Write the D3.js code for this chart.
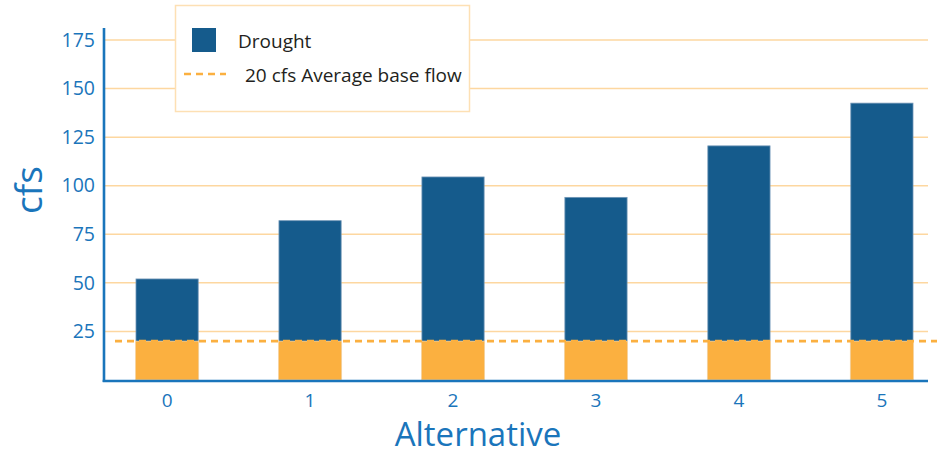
<!DOCTYPE html>
<html>
<head>
<meta charset="utf-8">
<script src="https://cdn.jsdelivr.net/npm/d3@7"></script>
<style>
  html, body { margin: 0; padding: 0; background: #fff; }
  svg { display: block; }
  text { font-family: "Open Sans", "Noto Sans", sans-serif; }
</style>
</head>
<body>
<svg id="chart" width="940" height="455"></svg>
<script>
// Flow per alternative under drought conditions (cfs)
const alternatives = ["0", "1", "2", "3", "4", "5"];
const droughtFlow = [52, 82, 104.5, 94, 120.5, 142.5];
// Average base flow (cfs), shown as the orange lower part and the dashed line
const baseFlow = [20, 20, 20, 20, 20, 20];
const averageBaseFlow = 20;
const yTicks = [25, 50, 75, 100, 125, 150, 175];

const legendItems = ["Drought", "20 cfs Average base flow"];

const C = {
  axis: "#1a75bb",
  drought: "#155b8c",
  droughtEdge: "#6f95b6",
  base: "#fbb040",
  baseEdge: "#fdd9a6",
  grid: "#fdd7a0",
  legendBorder: "#fde0b4",
  text: "#231f20"
};

const svg = d3.select("#chart");
const plotLeft = 104, plotRight = 928;

const y = d3.scaleLinear().domain([0, 175]).range([380, 40]);
const x = d3.scaleBand()
  .domain(alternatives)
  .range([136, 913])
  .paddingInner(0.565)
  .paddingOuter(0);

// Horizontal gridlines
svg.append("g")
  .selectAll("line")
  .data(yTicks)
  .join("line")
  .attr("x1", plotLeft)
  .attr("x2", plotRight)
  .attr("y1", d => y(d))
  .attr("y2", d => y(d))
  .attr("stroke", C.grid)
  .attr("stroke-width", 1.5);

// Drought bars (full height)
svg.append("g")
  .selectAll("rect")
  .data(alternatives)
  .join("rect")
  .attr("x", (d, i) => x(d))
  .attr("width", x.bandwidth())
  .attr("y", (d, i) => y(droughtFlow[i]))
  .attr("height", (d, i) => y(0) - y(droughtFlow[i]))
  .attr("fill", C.drought)
  .attr("stroke", C.droughtEdge)
  .attr("stroke-width", 0.8);

// Base flow portion
svg.append("g")
  .selectAll("rect")
  .data(alternatives)
  .join("rect")
  .attr("x", (d, i) => x(d) - 0.5)
  .attr("width", x.bandwidth() + 1)
  .attr("y", (d, i) => y(baseFlow[i]))
  .attr("height", (d, i) => y(0) - y(baseFlow[i]))
  .attr("fill", C.base)
  .attr("stroke", C.baseEdge)
  .attr("stroke-width", 0.8);

// Average base flow reference line
svg.append("line")
  .attr("x1", 115)
  .attr("x2", 937)
  .attr("y1", y(averageBaseFlow))
  .attr("y2", y(averageBaseFlow))
  .attr("stroke", C.base)
  .attr("stroke-width", 2.7)
  .attr("stroke-dasharray", "7,5");

// Axes lines
svg.append("line")
  .attr("x1", plotLeft).attr("x2", plotLeft)
  .attr("y1", 28).attr("y2", 382)
  .attr("stroke", C.axis).attr("stroke-width", 2.6);
svg.append("line")
  .attr("x1", plotLeft - 1.3).attr("x2", plotRight)
  .attr("y1", 381).attr("y2", 381)
  .attr("stroke", C.axis).attr("stroke-width", 2.6);

// Y axis tick labels
const yAxis = d3.axisLeft(y).tickValues(yTicks).tickSize(0).tickPadding(9);
const gy = svg.append("g").attr("transform", `translate(${plotLeft},0)`).call(yAxis);
gy.select(".domain").remove();
gy.selectAll("text")
  .attr("fill", C.axis)
  .style("font-size", "19.5px")
  .style("font-family", "'Open Sans', sans-serif")
  .attr("dy", "0.32em");

// X axis tick labels
const xAxis = d3.axisBottom(x).tickSize(0).tickPadding(0);
const gx = svg.append("g").attr("transform", "translate(0,381)").call(xAxis);
gx.select(".domain").remove();
gx.selectAll("text")
  .attr("fill", C.axis)
  .style("font-size", "19px")
  .style("font-family", "'Open Sans', sans-serif")
  .attr("y", 26)
  .attr("dy", 0);

// Axis titles
svg.append("text")
  .attr("x", 478)
  .attr("y", 446)
  .attr("text-anchor", "middle")
  .attr("fill", C.axis)
  .style("font-size", "33px")
  .text("Alternative");

svg.append("text")
  .attr("transform", "translate(42,190) rotate(-90)")
  .attr("text-anchor", "middle")
  .attr("fill", C.axis)
  .style("font-size", "37px")
  .text("cfs");

// Legend
const lg = svg.append("g");
lg.append("rect")
  .attr("x", 175.5).attr("y", 5.5)
  .attr("width", 294).attr("height", 106)
  .attr("fill", "#fff")
  .attr("stroke", C.legendBorder)
  .attr("stroke-width", 1.5);
lg.append("rect")
  .attr("x", 192).attr("y", 28)
  .attr("width", 24).attr("height", 24)
  .attr("fill", C.drought);
lg.append("text")
  .attr("x", 238).attr("y", 48)
  .attr("fill", C.text)
  .style("font-size", "19px")
  .text(legendItems[0]);
lg.append("line")
  .attr("x1", 184).attr("x2", 226)
  .attr("y1", 74).attr("y2", 74)
  .attr("stroke", C.base)
  .attr("stroke-width", 2.7)
  .attr("stroke-dasharray", "7,5");
lg.append("text")
  .attr("x", 245).attr("y", 82)
  .attr("fill", C.text)
  .style("font-size", "19px")
  .text(legendItems[1]);
</script>
</body>
</html>
